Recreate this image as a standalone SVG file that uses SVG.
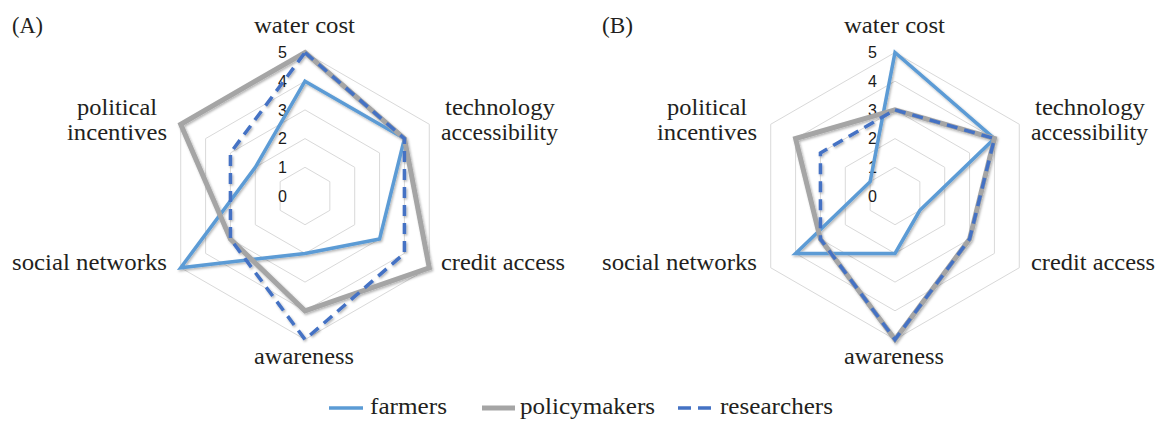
<svg xmlns="http://www.w3.org/2000/svg" width="1162" height="423" viewBox="0 0 1162 423">
<style>
.grid{fill:none;stroke:#d9d9d9;stroke-width:1}
.lab{font-family:"Liberation Serif","Times New Roman",serif;font-size:23px;fill:#231f20}
.num{font-family:"Liberation Sans",Arial,sans-serif;font-size:16px;fill:#1a1a1a;text-anchor:end}
.mid{text-anchor:middle}
.farm{fill:none;stroke:#5b9bd5;stroke-width:3.5;stroke-linejoin:miter}
.pol{fill:none;stroke:#a5a5a5;stroke-width:5;stroke-linejoin:miter}
.res{fill:none;stroke:#4472c4;stroke-width:3.5;stroke-dasharray:11 7;stroke-linejoin:miter}
</style>
<defs>
<filter id="sh" x="-10%" y="-10%" width="120%" height="120%">
<feDropShadow dx="1.2" dy="1.5" stdDeviation="1.3" flood-color="#000" flood-opacity="0.3"/>
</filter>
<g id="grid">
<polygon class="grid" points="0,-28.7 24.855,-14.35 24.855,14.35 0,28.7 -24.855,14.35 -24.855,-14.35"/>
<polygon class="grid" points="0,-57.4 49.71,-28.7 49.71,28.7 0,57.4 -49.71,28.7 -49.71,-28.7"/>
<polygon class="grid" points="0,-86.1 74.57,-43.05 74.57,43.05 0,86.1 -74.57,43.05 -74.57,-43.05"/>
<polygon class="grid" points="0,-114.8 99.42,-57.4 99.42,57.4 0,114.8 -99.42,57.4 -99.42,-57.4"/>
<polygon class="grid" points="0,-143.5 124.28,-71.75 124.28,71.75 0,143.5 -124.28,71.75 -124.28,-71.75"/>
<text class="num" x="-18" y="5.7">0</text>
<text class="num" x="-18" y="-23">1</text>
<text class="num" x="-18" y="-51.7">2</text>
<text class="num" x="-18" y="-80.4">3</text>
<text class="num" x="-18" y="-109.1">4</text>
<text class="num" x="-18" y="-137.8">5</text>
</g>
<g id="labels">
<text class="lab mid" x="-0.5" y="-163.3" textLength="101" lengthAdjust="spacingAndGlyphs">water cost</text>
<text class="lab mid" x="195" y="-81" textLength="110" lengthAdjust="spacingAndGlyphs">technology</text>
<text class="lab mid" x="194.5" y="-56" textLength="117" lengthAdjust="spacingAndGlyphs">accessibility</text>
<text class="lab mid" x="198" y="74" textLength="124" lengthAdjust="spacingAndGlyphs">credit access</text>
<text class="lab mid" x="-1" y="168.3" textLength="100" lengthAdjust="spacingAndGlyphs">awareness</text>
<text class="lab" x="-293" y="74" textLength="155" lengthAdjust="spacingAndGlyphs">social networks</text>
<text class="lab mid" x="-188" y="-81" textLength="80" lengthAdjust="spacingAndGlyphs">political</text>
<text class="lab mid" x="-188" y="-56" textLength="100" lengthAdjust="spacingAndGlyphs">incentives</text>
</g>
</defs>

<g id="chart-a">
<text class="lab" x="12" y="33" textLength="31" lengthAdjust="spacingAndGlyphs">(A)</text>
<use href="#grid" x="305" y="196"/>
<use href="#labels" x="305" y="196"/>
<g id="series-a" filter="url(#sh)">
<polygon id="a-farmers" class="farm" points="305,81.2 404.42,138.6 379.57,239.05 305,253.4 180.72,267.75 255.29,167.3"/>
<polygon id="a-policymakers" class="pol" points="305,52.5 404.42,138.6 429.28,267.75 305,310.8 230.43,239.05 180.72,124.25"/>
<polygon id="a-researchers" class="res" points="305,52.5 404.42,138.6 404.42,253.4 305,339.5 230.43,239.05 230.43,152.95"/>
</g>
</g>

<g id="chart-b">
<text class="lab" x="602" y="33" textLength="31" lengthAdjust="spacingAndGlyphs">(B)</text>
<use href="#grid" x="895" y="196"/>
<use href="#labels" x="895" y="196"/>
<g id="series-b" filter="url(#sh)">
<polygon id="b-farmers" class="farm" points="895,52.5 994.42,138.6 919.86,210.35 895,253.4 795.58,253.4 870.14,181.65"/>
<polygon id="b-policymakers" class="pol" points="895,109.9 994.42,138.6 969.57,239.05 895,339.5 820.43,239.05 795.58,138.6"/>
<polygon id="b-researchers" class="res" points="895,109.9 994.42,138.6 969.57,239.05 895,339.5 820.43,239.05 820.43,152.95"/>
</g>
</g>

<g id="legend">
<g id="legend-farmers">
<line class="farm" x1="329" y1="408" x2="363" y2="408"/>
<text class="lab" x="370" y="414" textLength="77" lengthAdjust="spacingAndGlyphs">farmers</text>
</g>
<g id="legend-policymakers">
<line class="pol" x1="482" y1="408" x2="515" y2="408"/>
<text class="lab" x="520" y="414" textLength="135" lengthAdjust="spacingAndGlyphs">policymakers</text>
</g>
<g id="legend-researchers">
<line class="res" x1="678" y1="408" x2="712" y2="408" style="stroke-dasharray:13 7"/>
<text class="lab" x="720" y="414" textLength="113" lengthAdjust="spacingAndGlyphs">researchers</text>
</g>
</g>
</svg>
